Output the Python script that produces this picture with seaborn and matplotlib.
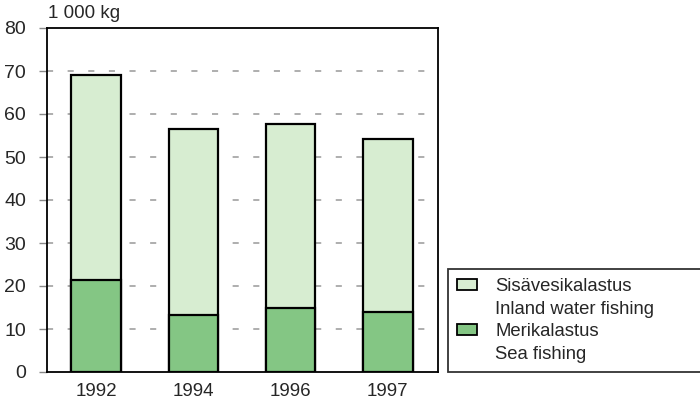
import matplotlib
matplotlib.use("Agg")
import matplotlib.pyplot as plt
import seaborn as sns
import pandas as pd
from matplotlib.patches import Patch

years = ["1992", "1994", "1996", "1997"]
sea = [21.3, 13.2, 15.0, 13.9]
inland = [47.8, 43.3, 42.7, 40.3]
total = [s + i for s, i in zip(sea, inland)]
yticks = [0, 10, 20, 30, 40, 50, 60, 70, 80]
label_inland = ["Sisävesikalastus", "Inland water fishing"]
label_sea = ["Merikalastus", "Sea fishing"]
unit = "1 000 kg"

light = "#d7edd1"
dark = "#84c684"

sns.set_theme(style="white")
plt.rcParams['font.family'] = ['Liberation Sans', 'DejaVu Sans']

df = pd.DataFrame({"year": years, "sea": sea, "total": total})

fig = plt.figure(figsize=(7, 4), dpi=100)
ax = fig.add_axes([47/700, 28/400, 391/700, 344/400])

sns.barplot(data=df, x="year", y="total", order=years, color=light, width=0.51,
            edgecolor="black", linewidth=1.6, saturation=1, ax=ax, zorder=3)
sns.barplot(data=df, x="year", y="sea", order=years, color=dark, width=0.51,
            edgecolor="black", linewidth=1.6, saturation=1, ax=ax, zorder=3)

ax.set_ylim(0, 80)
ax.set_xlim(-0.505, 3.515)
ax.set_yticks(yticks)
ax.set_yticklabels([str(t) for t in yticks], fontsize=14)
ax.tick_params(axis='y', left=True, length=6, width=1, color="#888888", pad=9)
ax.tick_params(axis='x', bottom=False, labelsize=13.5, pad=2)
ax.set_xlabel("")
ax.set_ylabel("")
for t in [10, 20, 30, 40, 50, 60, 70]:
    ax.axhline(t, color="#999999", linestyle=(0, (4, 9.5)), linewidth=1.1, zorder=1)
for s in ax.spines.values():
    s.set_visible(True)
    s.set_color("black")
    s.set_linewidth(1.3)

fig.text(48/700, 1 - 14/400, unit, fontsize=13.5, va="center", ha="left")

blank = Patch(facecolor="none", edgecolor="none")
handles = [Patch(facecolor=light, edgecolor="black", linewidth=1.3), blank,
           Patch(facecolor=dark, edgecolor="black", linewidth=1.3), blank]
labels = [label_inland[0], label_inland[1], label_sea[0], label_sea[1]]
leg = fig.legend(handles=handles, labels=labels, loc="lower left",
                 bbox_to_anchor=(448/700, 28/400, 262/700, 107/400), mode="expand",
                 frameon=True, fancybox=False, edgecolor="black", fontsize=13.3,
                 handlelength=1.05, handleheight=0.55, handletextpad=1.0,
                 labelspacing=0.3, borderpad=0.5, borderaxespad=0)
leg.get_frame().set_linewidth(1.3)

fig.savefig("out.png", dpi=100)
